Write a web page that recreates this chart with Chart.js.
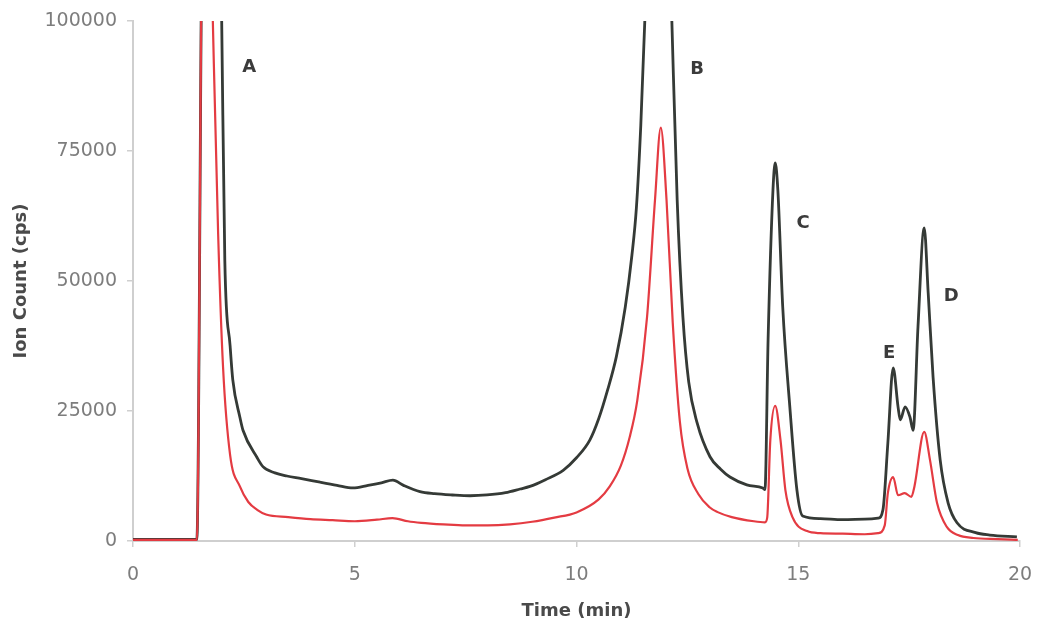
<!DOCTYPE html>
<html>
<head>
<meta charset="utf-8">
<script src="https://cdn.jsdelivr.net/npm/chart.js@4/dist/chart.umd.min.js"></script>
<style>
  html, body { margin: 0; padding: 0; background: #fff; }
  #wrap { width: 1044px; height: 632px; }
</style>
</head>
<body>
<div id="wrap"><canvas id="chromChart" width="1044" height="632"></canvas></div>
<script>
  // values (time in min, counts in cps)
  const darkTime = [0, 1.44, 1.58, 1.95, 2.0, 2.07, 2.19, 2.25, 2.41, 2.48, 2.8, 2.93, 3.2, 3.47, 3.8,
    4.22, 4.6, 4.96, 5.3, 5.6, 5.86, 6.1, 6.47, 6.8, 7.2, 7.6, 7.98, 8.4, 8.73, 8.95, 9.3, 9.7, 10.0,
    10.3, 10.5, 10.7, 10.9, 11.1, 11.25, 11.35, 11.45, 11.54, 11.65, 12.05, 12.15, 12.27, 12.4, 12.53,
    12.72, 13.01, 13.25, 13.46, 13.84, 14.2, 14.25, 14.32, 14.43, 14.48, 14.54, 14.65, 14.81, 14.97,
    15.1, 15.5, 16.0, 16.5, 16.8, 16.91, 17.02, 17.14, 17.25, 17.3, 17.41, 17.52, 17.59, 17.7, 17.84,
    17.93, 18.04, 18.2, 18.38, 18.58, 19.0, 19.32, 19.93];
  const darkCounts = [300, 300, 130000, 130000, 100000, 54000, 37500, 31000, 23800, 21300, 16000, 14300,
    13100, 12500, 12000, 11300, 10700, 10200, 10700, 11200, 11700, 10700, 9500, 9100, 8850, 8700, 8850,
    9300, 10000, 10500, 11800, 13600, 16000, 19400, 23500, 29000, 35500, 45000, 55000, 64000, 80000,
    100000, 130000, 130000, 100000, 65600, 43000, 30600, 22700, 16200, 13800, 12300, 10800, 10200, 9900,
    38700, 67500, 72700, 67500, 45000, 25800, 9800, 4800, 4300, 4100, 4200, 4400, 6000, 18800, 33300,
    25800, 23300, 25800, 23800, 21300, 41200, 60200, 47700, 31500, 15600, 7300, 3500, 1600, 1150, 800];

  const redTime = [0, 1.44, 1.58, 1.72, 1.8, 1.92, 2.03, 2.19, 2.41, 2.6, 2.8, 3.0, 3.5, 4.0, 4.5, 5.0,
    5.5, 5.85, 6.2, 6.5, 7.0, 7.5, 8.0, 8.5, 9.0, 9.5, 10.0, 10.5, 10.75, 11.0, 11.2, 11.37, 11.59,
    11.77, 11.9, 12.03, 12.17, 12.33, 12.5, 12.75, 13.0, 13.17, 13.5, 14.0, 14.25, 14.3, 14.37, 14.48,
    14.6, 14.71, 14.87, 15.2, 15.5, 16.0, 16.5, 16.8, 16.95, 17.02, 17.14, 17.25, 17.4, 17.55, 17.62,
    17.84, 17.97, 18.13, 18.35, 18.6, 18.95, 19.5, 19.95];
  const redCounts = [200, 200, 130000, 130000, 100000, 59000, 33500, 16500, 10500, 7500, 6000, 5100,
    4600, 4200, 4000, 3800, 4100, 4400, 3800, 3500, 3200, 3000, 3000, 3200, 3700, 4500, 5500, 8000,
    10500, 14500, 20000, 27000, 43000, 65600, 79500, 65600, 42000, 23000, 14000, 9000, 6500, 5600,
    4600, 3800, 3600, 4500, 19400, 26000, 19400, 9800, 4600, 1900, 1500, 1400, 1300, 1500, 3000, 9200,
    12300, 8800, 9200, 8500, 10500, 21000, 15600, 7300, 2700, 1150, 580, 350, 200];

  const peakNames = ['A', 'B', 'C', 'D', 'E'];
  const peakNameTime = [2.62, 12.72, 15.11, 18.45, 17.05];
  const peakNameCount = [91000, 90800, 61000, 47000, 36000];

  const xTicks = [0, 5, 10, 15, 20];
  const yTicks = [0, 25000, 50000, 75000, 100000];

  function toPoints(times, counts) {
    return times.map((t, i) => ({ x: t, y: counts[i] }));
  }

  // letters over the peaks
  const peakLabels = {
    id: 'peakLabels',
    afterDatasetsDraw(chart) {
      const ctx = chart.ctx;
      const xs = chart.scales.x, ys = chart.scales.y;
      ctx.save();
      ctx.font = 'bold 18px "DejaVu Sans"';
      ctx.fillStyle = '#3b3b3b';
      ctx.textAlign = 'center';
      ctx.textBaseline = 'middle';
      peakNames.forEach((name, i) => {
        ctx.fillText(name, xs.getPixelForValue(peakNameTime[i]), ys.getPixelForValue(peakNameCount[i]));
      });
      ctx.restore();
    }
  };

  const axisGray = '#cfcfcf';
  const tickFont = { family: 'DejaVu Sans', size: 19 };
  const titleFont = { family: 'DejaVu Sans', size: 18, weight: 'bold' };

  new Chart(document.getElementById('chromChart').getContext('2d'), {
    type: 'line',
    data: {
      datasets: [{
        label: 'red',
        data: toPoints(redTime, redCounts),
        borderColor: '#e43b42',
        borderWidth: 2.2,
        pointRadius: 0,
        cubicInterpolationMode: 'monotone'
      }, {
        label: 'dark',
        data: toPoints(darkTime, darkCounts),
        borderColor: '#353a36',
        borderWidth: 2.8,
        pointRadius: 0,
        cubicInterpolationMode: 'monotone'
      }]
    },
    options: {
      responsive: false,
      animation: false,
      layout: { padding: { top: 21, right: 24, bottom: 0, left: 0 } },
      plugins: { legend: { display: false }, tooltip: { enabled: false } },
      scales: {
        x: {
          type: 'linear',
          min: 0,
          max: 20,
          afterBuildTicks: s => { s.ticks = xTicks.map(v => ({ value: v })); },
          afterFit: s => { s.height = 91; s.paddingLeft = 0; s.paddingRight = 0; },
          border: { display: true, color: axisGray, width: 2 },
          grid: { drawOnChartArea: false, drawTicks: true, tickLength: 6, color: axisGray, lineWidth: 1.5 },
          ticks: { color: '#7d7d7d', font: tickFont, padding: 17, maxRotation: 0 },
          title: { display: true, text: 'Time (min)', color: '#4a4a4a', font: titleFont, padding: { top: 0, bottom: 10 } }
        },
        y: {
          min: 0,
          max: 100000,
          afterBuildTicks: s => { s.ticks = yTicks.map(v => ({ value: v })); },
          afterFit: s => { s.width = 133; s.paddingTop = 0; s.paddingBottom = 0; },
          border: { display: true, color: axisGray, width: 2 },
          grid: { drawOnChartArea: false, drawTicks: true, tickLength: 6, color: axisGray, lineWidth: 1.5 },
          ticks: { color: '#7d7d7d', font: tickFont, padding: 10, callback: v => String(v) },
          title: { display: true, text: 'Ion Count (cps)', color: '#4a4a4a', font: titleFont, padding: { top: 11, bottom: 0 } }
        }
      }
    },
    plugins: [peakLabels]
  });
</script>
</body>
</html>
